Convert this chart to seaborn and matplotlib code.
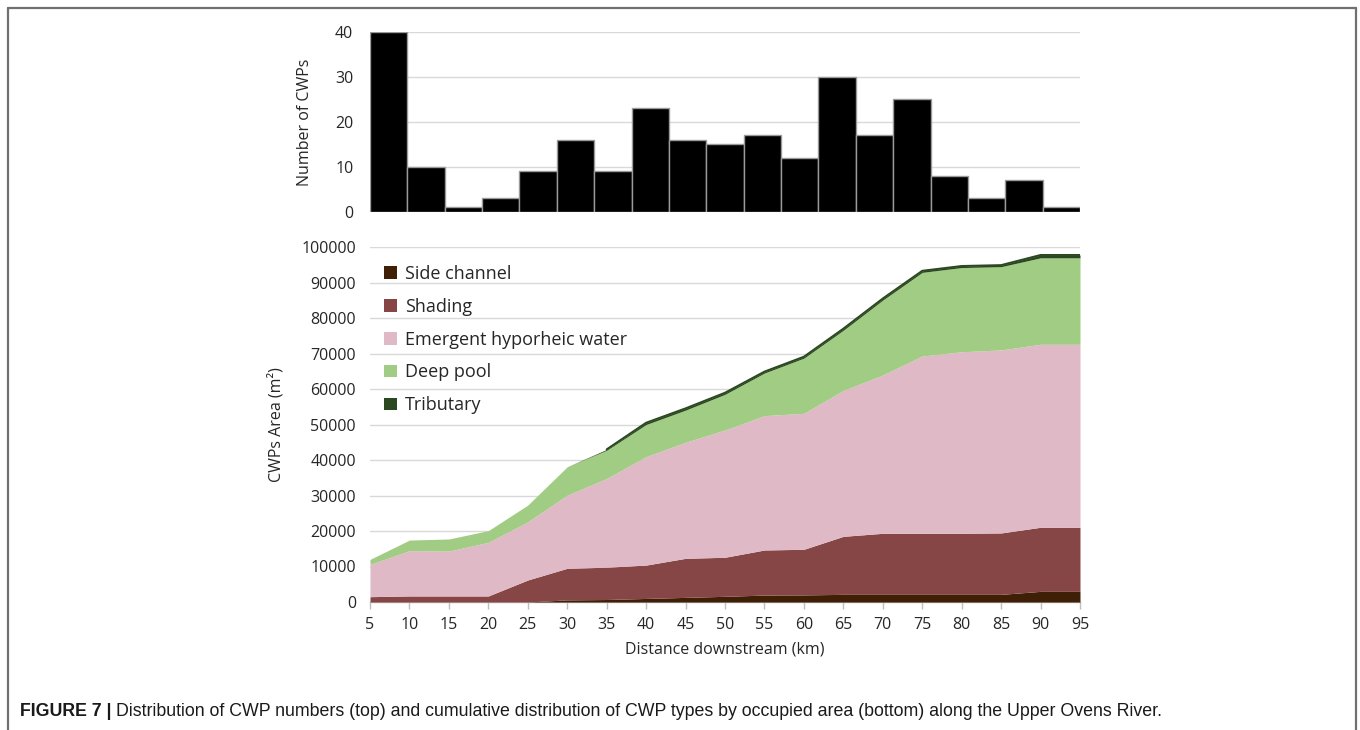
import numpy as np
import pandas as pd
import matplotlib
matplotlib.use("Agg")
import matplotlib.pyplot as plt
from matplotlib.lines import Line2D
from matplotlib.patches import Patch
import seaborn as sns

# ---- data ----
distance_km = [5, 10, 15, 20, 25, 30, 35, 40, 45, 50, 55, 60, 65, 70, 75, 80, 85, 90, 95]
cwp_counts = [40, 10, 1, 3, 9, 16, 9, 23, 16, 15, 17, 12, 30, 17, 25, 8, 3, 7, 1]

side_channel = [0, 0, 0, 0, 0, 600, 700, 1000, 1300, 1600, 1950, 2000, 2150, 2150, 2150, 2150, 2150, 3000, 3000]
shading = [1500, 1700, 1700, 1700, 6200, 8900, 9100, 9400, 11000, 11000, 12700, 12850, 16350, 17200, 17200, 17200, 17300, 18050, 18050]
emergent = [9100, 12750, 12650, 15100, 16400, 20600, 25000, 30550, 32700, 35850, 37850, 38300, 41100, 44600, 49950, 51150, 51550, 51550, 51550]
deep_pool = [1400, 3000, 3400, 3300, 4700, 8000, 7950, 9050, 9050, 10050, 12000, 15550, 16950, 21100, 23550, 23700, 23450, 24350, 24350]
tributary = [0, 0, 0, 0, 0, 0, 250, 500, 500, 450, 400, 400, 450, 450, 450, 450, 450, 800, 800]

series_names = ["Side channel", "Shading", "Emergent hyporheic water", "Deep pool", "Tributary"]
series_colors = ["#3f1f06", "#864646", "#dfb9c5", "#a1cc83", "#2b4820"]

top_yticks = [0, 10, 20, 30, 40]
bottom_yticks = list(range(0, 100001, 10000))

caption_bold = "FIGURE 7 |"
caption_text = ("Distribution of CWP numbers (top) and cumulative distribution of CWP types "
                "by occupied area (bottom) along the Upper Ovens River.")

# ---- style ----
sns.set_theme(style="white")
plt.rcParams["font.family"] = ["Open Sans", "DejaVu Sans"]
plt.rcParams["axes.unicode_minus"] = False

W, H = 1360, 730
fig = plt.figure(figsize=(W / 100, H / 100), dpi=100)
fig.patch.set_facecolor("white")

def fx(px):
    return px / W

def fy(py):
    return 1 - py / H

left, right = 370, 1080
ax_top = fig.add_axes([fx(left), fy(212), fx(right - left), (212 - 32) / H])
ax_bot = fig.add_axes([fx(left), fy(602), fx(right - left), (602 - 247) / H])

grid_col = "#d9d9d9"
text_col = "#262626"

# ---- top: histogram of CWP numbers ----
df_top = pd.DataFrame({"km": [str(d) for d in distance_km], "count": cwp_counts})
sns.barplot(data=df_top, x="km", y="count", ax=ax_top, color="black",
            width=1.0, edgecolor="#9a9a9a", linewidth=1.0, saturation=1, zorder=3)
ax_top.set_xlim(-0.5, len(distance_km) - 0.5)
ax_top.set_ylim(0, 40)
ax_top.set_yticks(top_yticks)
ax_top.set_xticks([])
ax_top.set_xlabel("")
ax_top.set_ylabel("Number of CWPs", fontsize=11.5, color=text_col, labelpad=16)
ax_top.tick_params(axis="y", labelsize=11.5, colors=text_col, length=0, pad=12)
ax_top.grid(axis="y", color=grid_col, linewidth=1.0, zorder=0)
for s in ax_top.spines.values():
    s.set_visible(False)

# ---- bottom: stacked area ----
stack_vals = [side_channel, shading, emergent, deep_pool, tributary]
ax_bot.stackplot(distance_km, *stack_vals, colors=series_colors,
                 linewidth=0, zorder=3)
arr = np.array(stack_vals, dtype=float)
top_line = arr.sum(axis=0)
trib = np.array(tributary, dtype=float)
line_y = np.where(trib > 0, top_line, np.nan)
ax_bot.plot(distance_km, line_y, color=series_colors[4], linewidth=1.4, zorder=4)
ax_bot.set_xlim(5, 95)
ax_bot.set_ylim(0, 100000)
ax_bot.set_xticks(distance_km)
ax_bot.set_yticks(bottom_yticks)
ax_bot.set_yticklabels([str(v) for v in bottom_yticks])
ax_bot.tick_params(axis="y", labelsize=11.5, colors=text_col, length=0, pad=10)
ax_bot.tick_params(axis="x", labelsize=11.5, labelcolor=text_col, color="#bfbfbf",
                   length=5, width=1, direction="out", bottom=True, pad=6)
ax_bot.grid(axis="y", color=grid_col, linewidth=1.0, zorder=0)
for name, s in ax_bot.spines.items():
    if name == "bottom":
        s.set_visible(True)
        s.set_color("#bfbfbf")
        s.set_linewidth(1)
    else:
        s.set_visible(False)
ax_bot.set_xlabel("Distance downstream (km)", fontsize=11.5, color=text_col, labelpad=6)
ax_bot.set_ylabel("CWPs Area (m²)", fontsize=11.5, color=text_col, labelpad=12)

handles = [Patch(facecolor=c, edgecolor="none") for c in series_colors]
leg = ax_bot.legend(handles, series_names, loc="upper left", bbox_to_anchor=(0.0, 0.99),
                    frameon=False, fontsize=13, handlelength=0.7, handleheight=0.7,
                    handletextpad=0.45, labelspacing=0.82, borderaxespad=0.4)
for t in leg.get_texts():
    t.set_color(text_col)

# ---- frame and caption ----
frame_col = "#707070"
fig.add_artist(Line2D([fx(8), fx(8)], [0, fy(8)], color=frame_col, lw=1.6))
fig.add_artist(Line2D([fx(8), fx(1356)], [fy(8), fy(8)], color=frame_col, lw=1.6))
fig.add_artist(Line2D([fx(1356), fx(1356)], [0, fy(8)], color=frame_col, lw=1.6))

cap_family = ["Liberation Sans", "DejaVu Sans"]
tb = fig.text(fx(20), fy(711), caption_bold, fontsize=12.8, fontweight="bold",
              family=cap_family, color="#1a1a1a", va="center", ha="left")
fig.canvas.draw()
bb = tb.get_window_extent()
fig.text((bb.x1 + 4) / W, fy(711), caption_text, fontsize=12.8,
         family=cap_family, color="#1a1a1a", va="center", ha="left")

fig.savefig("out.png", dpi=100, facecolor="white")
